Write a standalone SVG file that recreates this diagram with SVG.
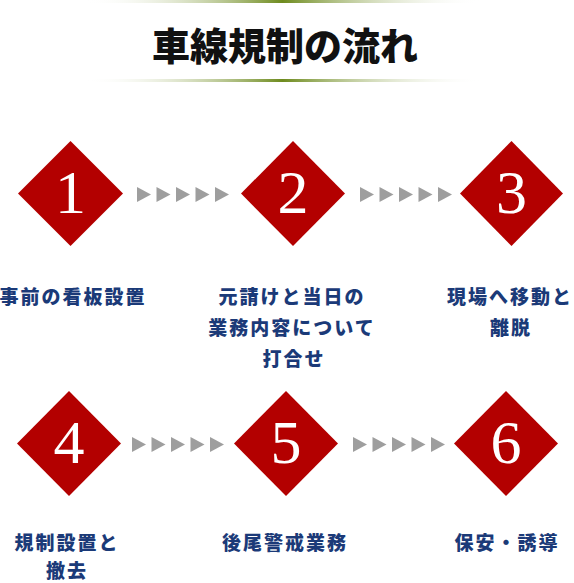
<svg xmlns="http://www.w3.org/2000/svg" width="574" height="583" viewBox="0 0 574 583">
<defs>
<linearGradient id="lineGrad" x1="0" y1="0" x2="1" y2="0">
<stop offset="0" stop-color="#ffffff" stop-opacity="0"/>
<stop offset="0.5" stop-color="#6e8b1e"/>
<stop offset="1" stop-color="#ffffff" stop-opacity="0"/>
</linearGradient>
<polygon id="tri" points="0,0 14,7.5 0,15" fill="#9e9e9e"/>
<g id="arrows">
<use href="#tri" x="0"/>
<use href="#tri" x="19.5"/>
<use href="#tri" x="39"/>
<use href="#tri" x="58.5"/>
<use href="#tri" x="78"/>
</g>
</defs>
<style>
.dia{fill:#b30000}
.num{font-family:"Liberation Serif","DejaVu Serif",serif;font-size:62px;fill:#ffffff;text-anchor:middle}
.lbl{font-family:"Noto Sans CJK JP","Noto Sans",sans-serif;font-size:19px;font-weight:900;fill:#1b3a78;text-anchor:middle;letter-spacing:2px}
.title{font-family:"Noto Sans CJK JP",sans-serif;font-size:38px;font-weight:900;fill:#111111;text-anchor:middle}
</style>
<rect width="574" height="583" fill="#ffffff"/>
<g id="title">
<rect x="85" y="0" width="395" height="3" fill="url(#lineGrad)"/>
<text class="title" x="285" y="60">車線規制の流れ</text>
<rect x="85" y="79" width="395" height="3" fill="url(#lineGrad)"/>
</g>
<g id="connectors">
<use href="#arrows" x="137" y="187"/>
<use href="#arrows" x="360" y="187"/>
<use href="#arrows" x="132" y="437"/>
<use href="#arrows" x="353" y="437"/>
</g>
<g id="step1">
<polygon class="dia" points="70.5,141 123,193.5 70.5,246 18,193.5"/>
<text class="num" x="70.5" y="213">1</text>
<text class="lbl" x="73" y="304">事前の看板設置</text>
</g>
<g id="step2">
<polygon class="dia" points="293,141 345,193.5 293,246 241,193.5"/>
<text class="num" x="293" y="213">2</text>
<text class="lbl" x="292" y="304">元請けと当日の</text>
<text class="lbl" x="292" y="335">業務内容について</text>
<text class="lbl" x="294" y="366">打合せ</text>
</g>
<g id="step3">
<polygon class="dia" points="511.5,141 563,193.5 511.5,246 460,193.5"/>
<text class="num" x="511.5" y="213">3</text>
<text class="lbl" x="510" y="304">現場へ移動と</text>
<text class="lbl" x="511" y="335">離脱</text>
</g>
<g id="step4">
<polygon class="dia" points="69,391 121,443.5 69,496 17,443.5"/>
<text class="num" x="69" y="463">4</text>
<text class="lbl" x="67" y="550">規制設置と</text>
<text class="lbl" x="67" y="578">撤去</text>
</g>
<g id="step5">
<polygon class="dia" points="286,391 338,443.5 286,496 234,443.5"/>
<text class="num" x="286" y="463">5</text>
<text class="lbl" x="285" y="550">後尾警戒業務</text>
</g>
<g id="step6">
<polygon class="dia" points="506,391 558,443.5 506,496 454,443.5"/>
<text class="num" x="506" y="463">6</text>
<text class="lbl" x="507" y="550">保安・誘導</text>
</g>
</svg>
